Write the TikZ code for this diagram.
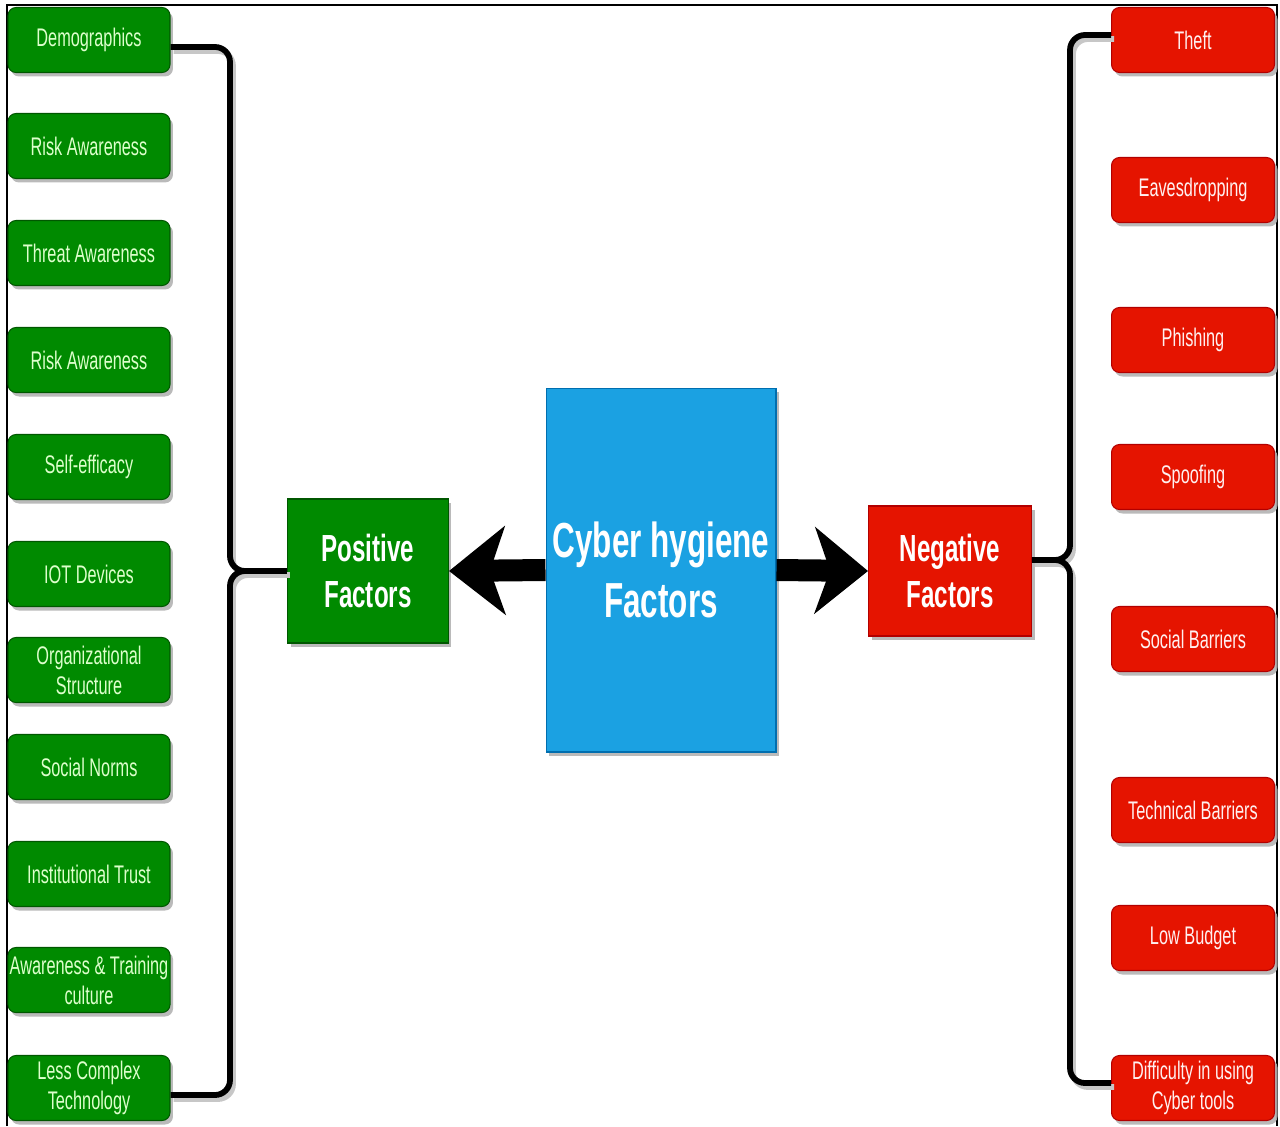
\documentclass[tikz,border=0pt]{standalone}
\usepackage{fontspec}
\setmainfont{Liberation Sans}[FakeStretch=0.64]
\usetikzlibrary{arrows.meta,shadows}

\definecolor{posgreen}{HTML}{008A00}
\definecolor{posgreenline}{HTML}{005700}
\definecolor{posgreentext}{HTML}{DDFFCC}
\definecolor{negred}{HTML}{E51400}
\definecolor{negredline}{HTML}{B20000}
\definecolor{negredtext}{HTML}{FFF0F0}
\definecolor{coreblue}{HTML}{1BA1E2}
\definecolor{coreblueline}{HTML}{006EAF}

\tikzset{
  boxshadow/.style={drop shadow={shadow xshift=0.06cm, shadow yshift=-0.08cm, fill=black!30, opacity=0.9}},
  item/.style={rectangle, rounded corners=0.16cm, line width=0.6pt, minimum height=1.3cm,
    align=center, inner sep=1pt, font=\fontsize{14.5}{17}\selectfont, boxshadow},
  gitem/.style={item, fill=posgreen, draw=posgreenline, text=posgreentext, minimum width=3.24cm},
  ritem/.style={item, fill=negred, draw=negredline, text=negredtext, minimum width=3.26cm},
  hub/.style={rectangle, line width=0.6pt, align=center, text=white, inner sep=2pt,
    font=\bfseries\fontsize{21.5}{26}\selectfont, boxshadow},
  core/.style={rectangle, line width=0.6pt, align=center, text=white,
    fill=coreblue, draw=coreblueline, font=\bfseries\fontsize{28}{34}\selectfont, boxshadow},
  conn/.style={line width=3.3pt, black, rounded corners=0.3cm,
    preaction={draw=black!22, line width=3.3pt, transform canvas={xshift=0.06cm, yshift=-0.08cm}}},
  bigarrow/.style={line width=0.44cm, black},
  frame/.style={line width=1.2pt, black}
}

\begin{document}
\begin{tikzpicture}[x=0.02cm, y=-0.02cm]
  \useasboundingbox (0,0) rectangle (1280,1126);
  \draw[frame] (7,1126) -- (7,5) -- (1277,5) -- (1277,1126);

  % central topic and the two branches
  \node[core, minimum width=4.6cm, minimum height=7.28cm] (core) at (661,570) {Cyber hygiene\\Factors};
  \node[hub, fill=posgreen, draw=posgreenline, minimum width=3.22cm, minimum height=2.88cm] (pos) at (368,571) {Positive\\Factors};
  \node[hub, fill=negred, draw=negredline, minimum width=3.26cm, minimum height=2.6cm] (neg) at (950,571) {Negative\\Factors};

  % positive factors
  \node[gitem] (p1)  at (89,40)   {Demographics};
  \node[gitem] (p2)  at (89,146)  {Risk Awareness};
  \node[gitem] (p3)  at (89,253)  {Threat Awareness};
  \node[gitem] (p4)  at (89,360)  {Risk Awareness};
  \node[gitem] (p5)  at (89,467)  {Self-efficacy};
  \node[gitem] (p6)  at (89,574)  {IOT Devices};
  \node[gitem] (p7)  at (89,670)  {Organizational\\Structure};
  \node[gitem] (p8)  at (89,767)  {Social Norms};
  \node[gitem] (p9)  at (89,874)  {Institutional Trust};
  \node[gitem] (p10) at (89,980)  {Awareness \& Training\\culture};
  \node[gitem] (p11) at (89,1088) {Less Complex\\Technology};

  % negative factors
  \node[ritem] (n1) at (1193,40)   {Theft};
  \node[ritem] (n2) at (1193,190)  {Eavesdropping};
  \node[ritem] (n3) at (1193,340)  {Phishing};
  \node[ritem] (n4) at (1193,477)  {Spoofing};
  \node[ritem] (n5) at (1193,639)  {Social Barriers};
  \node[ritem] (n6) at (1193,810)  {Technical Barriers};
  \node[ritem] (n7) at (1193,938)  {Low Budget};
  \node[ritem] (n8) at (1193,1088) {Difficulty in using\\Cyber tools};

  % arrows from the central topic
  \draw[bigarrow, -{Stealth[length=1.12cm, width=1.76cm, inset=0.3cm]}] (core.west) -- (pos.east);
  \draw[bigarrow, -{Stealth[length=1.06cm, width=1.72cm, inset=0.3cm]}] (core.east) -- (neg.west);

  % bracket connectors
  \coordinate (lbusup) at (230,571);
  \coordinate (rbus) at (1070,560);
  \draw[conn] (pos.west) -- (lbusup) |- ([yshift=-0.14cm]p1.east);
  \draw[conn] (pos.west) -- (lbusup) |- ([yshift=-0.14cm]p11.east);
  \draw[conn] ([yshift=0.22cm]neg.east) -- (rbus) |- ([yshift=0.1cm]n1.west);
  \draw[conn] ([yshift=0.22cm]neg.east) -- (rbus) |- ([yshift=0.1cm]n8.west);
\end{tikzpicture}
\end{document}
